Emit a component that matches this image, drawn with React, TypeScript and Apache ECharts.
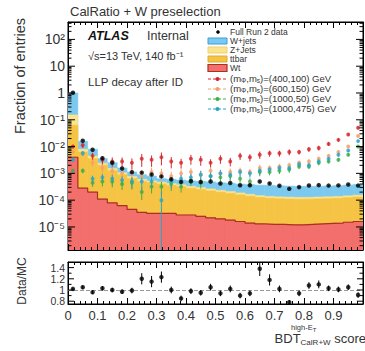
import React, { useEffect, useRef } from "react";
import * as echarts from "echarts";

const N_BINS = 30;
const xTickLabels = ["0", "0.1", "0.2", "0.3", "0.4", "0.5", "0.6", "0.7", "0.8", "0.9"];
const yLogTicks = [-5, -4, -3, -2, -1, 0, 1, 2];
const yLogLabels = ["10⁻⁵", "10⁻⁴", "10⁻³", "10⁻²", "10⁻¹", "1", "10", "10²"];
const ratioTicks = [0.8, 1, 1.2, 1.4];
const ratioTickLabels = ["0.8", "1", "1.2", "1.4"];

// Backgrounds (fraction of entries per bin)
const wjets = [0.85, 7.9e-3, 3.47e-3, 1.15e-3, 1.0e-3, 5.3e-4, 3.6e-4, 2.9e-4, 2.7e-4, 1.6e-4, 1.8e-4, 1.9e-4, 1.95e-4, 2.05e-4, 2.2e-4, 2.1e-4, 2.2e-4, 2.1e-4, 2.15e-4, 2.15e-4, 2.2e-4, 2.1e-4, 2.05e-4, 2.0e-4, 2.0e-4, 2.0e-4, 2.05e-4, 2.1e-4, 2.2e-4, 2.3e-4];
const zjets = [0.088, 1.6e-3, 9.2e-4, 4.0e-4, 2.5e-4, 1.6e-4, 1.3e-4, 1.0e-4, 7e-5, 7e-5, 6.5e-5, 5.5e-5, 5e-5, 4.5e-5, 4e-5, 3.4e-5, 3.2e-5, 2.8e-5, 2.5e-5, 2.2e-5, 2.1e-5, 2.0e-5, 2.0e-5, 1.9e-5, 1.9e-5, 2.0e-5, 2.0e-5, 2.1e-5, 2.2e-5, 2.3e-5];
const ttbar = [0.059, 6.0e-3, 3.35e-3, 1.9e-3, 1.18e-3, 8.3e-4, 5.9e-4, 4.65e-4, 4.2e-4, 3.7e-4, 3.2e-4, 2.9e-4, 2.5e-4, 2.25e-4, 2.0e-4, 1.8e-4, 1.6e-4, 1.42e-4, 1.27e-4, 1.13e-4, 1.05e-4, 1.0e-4, 9.8e-5, 9.6e-5, 9.6e-5, 9.8e-5, 1.0e-4, 1.03e-4, 1.08e-4, 1.15e-4];
const wt = [4.0e-3, 2.8e-4, 2.0e-4, 1.1e-4, 7.9e-5, 6.3e-5, 4.5e-5, 3.5e-5, 3.2e-5, 3.2e-5, 3.2e-5, 2.8e-5, 2.8e-5, 2.5e-5, 2.2e-5, 2.0e-5, 1.8e-5, 1.6e-5, 1.4e-5, 1.3e-5, 1.25e-5, 1.25e-5, 1.2e-5, 1.2e-5, 1.25e-5, 1.3e-5, 1.35e-5, 1.4e-5, 1.5e-5, 1.6e-5];

// Data
const dataVals = [1.02, 1.66e-2, 7.6e-3, 3.66e-3, 2.5e-3, 1.53e-3, 1.11e-3, 1.07e-3, 9.1e-4, 7.7e-4, 6.0e-4, 4.8e-4, 5.1e-4, 4.75e-4, 5.0e-4, 4.2e-4, 4.35e-4, 3.6e-4, 3.6e-4, 5.0e-4, 4.2e-4, 3.45e-4, 2.65e-4, 3.07e-4, 3.54e-4, 3.64e-4, 3.5e-4, 3.55e-4, 3.83e-4, 3.5e-4];
const ratio = [1.02, 1.05, 0.96, 1.03, 1.0, 0.97, 0.99, 1.2, 1.15, 1.23, 1.0, 0.85, 0.98, 0.95, 1.05, 0.94, 1.02, 0.9, 0.94, 1.38, 1.18, 1.02, 0.78, 0.94, 1.08, 1.1, 1.03, 1.01, 1.05, 0.91];
const ratioErr = [0.02, 0.03, 0.03, 0.04, 0.04, 0.04, 0.05, 0.1, 0.1, 0.1, 0.06, 0.05, 0.05, 0.05, 0.06, 0.05, 0.06, 0.05, 0.05, 0.13, 0.1, 0.06, 0.04, 0.05, 0.06, 0.07, 0.05, 0.05, 0.05, 0.05];

// Signals
const sig400_100 = [1.0e-2, 1.12e-2, 4.5e-3, 3.2e-3, 2.8e-3, 2.8e-3, 2.5e-3, 3.5e-3, 3.2e-3, 4.0e-3, 2.8e-3, 2.5e-3, 3.5e-3, 3.2e-3, 2.5e-3, 3.5e-3, 2.8e-3, 4.5e-3, 4.0e-3, 5.0e-3, 5.6e-3, 5.6e-3, 6.3e-3, 6.3e-3, 7.9e-3, 8.9e-3, 1.26e-2, 1.78e-2, 2.8e-2, 5.0e-2];
const sig600_150 = [6.3e-3, 5.6e-3, 2.5e-3, 1.6e-3, 1.26e-3, 1.0e-3, 1.0e-3, 7.9e-4, 1.12e-3, 1.0e-3, 7.9e-4, 1.0e-3, 1.12e-3, 8.9e-4, 1.26e-3, 1.0e-3, 1.12e-3, 1.26e-3, 1.12e-3, 1.6e-3, 1.6e-3, 1.8e-3, 2.0e-3, 2.5e-3, 2.8e-3, 3.5e-3, 4.5e-3, 6.3e-3, 1.0e-2, 2.5e-2];
const sig1000_50 = [1.26e-3, 1.26e-3, 4.5e-4, 5.0e-4, 5.0e-4, 4.0e-4, 4.5e-4, 2.0e-4, 3.2e-4, 3.2e-4, 4.0e-4, 3.2e-4, 5.6e-4, 4.5e-4, 7.9e-4, 7.1e-4, 7.9e-4, 6.3e-4, 5.0e-4, 1.12e-3, 1.12e-3, 1.26e-3, 1.4e-3, 1.8e-3, 1.8e-3, 2.5e-3, 2.8e-3, 3.2e-3, 5.0e-3, 1.0e-2];
const sig1000_475 = [3.2e-3, 5.6e-3, 6.3e-4, 7.1e-4, 6.3e-4, 5.6e-4, 5.0e-4, 5.0e-4, 5.0e-4, 1.0e-4, 5.0e-4, 6.3e-4, 7.1e-4, 8.9e-4, 7.9e-4, 1.0e-3, 8.9e-4, 1.12e-3, 1.0e-3, 1.26e-3, 1.4e-3, 1.6e-3, 1.6e-3, 2.2e-3, 2.0e-3, 2.8e-3, 3.5e-3, 5.0e-3, 7.1e-3, 1.6e-2];
const sigRelErr = [0.15, 0.2, 0.3, 0.35, 0.4, 0.4, 0.45, 0.5, 0.45, 0.5, 0.45, 0.4, 0.4, 0.4, 0.35, 0.35, 0.35, 0.3, 0.3, 0.3, 0.25, 0.25, 0.25, 0.2, 0.2, 0.2, 0.15, 0.15, 0.12, 0.1];
const sig1000_475RelErr = [0.15, 0.2, 0.3, 0.35, 0.4, 0.4, 0.45, 0.5, 0.45, 1.0, 0.45, 0.4, 0.4, 0.4, 0.35, 0.35, 0.35, 0.3, 0.3, 0.3, 0.25, 0.25, 0.25, 0.2, 0.2, 0.2, 0.15, 0.15, 0.12, 0.1];

const Y_MIN = -5.86;
const Y_MAX = 2.65;
const R_MIN = 0.75;
const R_MAX = 1.5;
const FONT = "'Liberation Sans', Arial, Helvetica, sans-serif";

const G_LEFT = 68;
const G_RIGHT = 2;
const M_TOP = 22;
const M_H = 228;
const R_TOP = 262;
const R_H = 42;

const C_W = "#7cc9ef";
const C_Z = "#fce48e";
const C_TT = "#f6c444";
const C_WT = "#f26f6d";
const C_WT_LINE = "#a8321f";
const C_S1 = "#d7262b";
const C_S2 = "#f5a06a";
const C_S3 = "#3fae49";
const C_S4 = "#27a5c9";

const lg = (v: number) => (v > 0 ? Math.max(Math.log10(v), Y_MIN) : Y_MIN);
const center = (i: number) => (i + 0.5) / N_BINS;

function errSeries(items: number[][], color: string, xi: number, yi: number, width = 1, z = 3) {
  return {
    type: "custom",
    xAxisIndex: xi,
    yAxisIndex: yi,
    data: items,
    silent: true,
    clip: true,
    z,
    encode: { x: 0, y: [1, 2] },
    renderItem: (_p: any, api: any) => {
      const a = api.coord([api.value(0), api.value(1)]);
      const b = api.coord([api.value(0), api.value(2)]);
      return {
        type: "line",
        shape: { x1: a[0], y1: a[1], x2: b[0], y2: b[1] },
        style: { stroke: color, lineWidth: width },
      };
    },
  };
}

function histSeries(cum: number[], color: string) {
  return {
    type: "custom",
    xAxisIndex: 0,
    yAxisIndex: 0,
    silent: true,
    clip: true,
    z: 1,
    data: cum.map((v, i) => [i / N_BINS, (i + 1) / N_BINS, lg(v)]),
    encode: { x: [0, 1], y: 2 },
    renderItem: (_p: any, api: any) => {
      const a = api.coord([api.value(0), api.value(2)]);
      const b = api.coord([api.value(1), Y_MIN]);
      return {
        type: "rect",
        shape: { x: a[0], y: a[1], width: b[0] - a[0], height: b[1] - a[1] },
        style: { fill: color, stroke: color, lineWidth: 0.6 },
      };
    },
  };
}

function yTickSeries(items: number[][], xi: number, yi: number) {
  return {
    type: "custom",
    xAxisIndex: xi,
    yAxisIndex: yi,
    data: items,
    silent: true,
    z: 7,
    encode: { y: 0 },
    renderItem: (_p: any, api: any) => {
      const len = api.value(1);
      const l = api.coord([0, api.value(0)]);
      const r = api.coord([1, api.value(0)]);
      return {
        type: "group",
        children: [
          { type: "line", shape: { x1: l[0], y1: l[1], x2: l[0] + len, y2: l[1] }, style: { stroke: "#000", lineWidth: 1 } },
          { type: "line", shape: { x1: r[0], y1: r[1], x2: r[0] - len, y2: r[1] }, style: { stroke: "#000", lineWidth: 1 } },
        ],
      };
    },
  };
}

export default function App() {
  const ref = useRef<HTMLDivElement>(null);
  useEffect(() => {
    if (!ref.current) return;
    const chart = echarts.init(ref.current, undefined, { renderer: "svg" });

    const cWt = wt.map((v) => v);
    const cTt = wt.map((v, i) => v + ttbar[i]);
    const cZ = cTt.map((v, i) => v + zjets[i]);
    const cW = cZ.map((v, i) => v + wjets[i]);

    const wtOutline: number[][] = cWt.map((v, i) => [i / N_BINS, lg(v)]);
    wtOutline.push([1, lg(cWt[cWt.length - 1])]);

    const mainTicks: number[][] = [];
    for (let d = -6; d <= 2; d++) {
      for (let k = 1; k <= 9; k++) {
        const v = d + Math.log10(k);
        if (v > Y_MIN && v < Y_MAX) mainTicks.push([v, k === 1 ? 7 : 3.5]);
      }
    }
    const ratioTickPos: number[][] = [];
    for (let r = 0.8; r < 1.45; r += 0.1) {
      const rr = Math.round(r * 10) / 10;
      ratioTickPos.push([rr, Math.round(rr * 10) % 2 === 0 ? 6 : 3.5]);
    }

    // label-only grids sharing the pixel scale of the visible panels
    const pxPerDec = M_H / (Y_MAX - Y_MIN);
    const labTop = M_TOP - (3 - Y_MAX) * pxPerDec;
    const labH = 9 * pxPerDec;
    const pxPerR = R_H / (R_MAX - R_MIN);
    const rLabTopA = R_TOP + (R_MAX - 1.4) * pxPerR; // 1.0 .. 1.4
    const rLabTopB = R_TOP + (R_MAX - 1.2) * pxPerR; // 0.8 .. 1.2
    const rLabH = 0.4 * pxPerR;

    const signals = [
      { vals: sig400_100, err: sigRelErr, color: C_S1 },
      { vals: sig600_150, err: sigRelErr, color: C_S2 },
      { vals: sig1000_50, err: sigRelErr, color: C_S3 },
      { vals: sig1000_475, err: sig1000_475RelErr, color: C_S4 },
    ];

    const sigSeries: any[] = [];
    signals.forEach((s) => {
      sigSeries.push(
        errSeries(
          s.vals.map((v, i) => [center(i), lg(v * (1 - s.err[i])), lg(v * (1 + s.err[i]))]),
          s.color,
          0,
          0,
          1,
          3
        )
      );
      sigSeries.push({
        type: "scatter",
        xAxisIndex: 0,
        yAxisIndex: 0,
        symbol: "circle",
        symbolSize: 4,
        silent: true,
        itemStyle: { color: s.color },
        data: s.vals.map((v, i) => [center(i), lg(v)]),
        z: 4,
      });
    });

    const xAxisBase = {
      type: "value",
      min: 0,
      max: 1,
      interval: 0.1,
      splitLine: { show: false },
      axisLine: { show: true, onZero: false, lineStyle: { color: "#000", width: 1 } },
      axisTick: { show: true, inside: true, length: 6, lineStyle: { color: "#000" } },
      minorTick: { show: true, splitNumber: 5, length: 3, lineStyle: { color: "#000" } },
      minorSplitLine: { show: false },
      z: 8,
    };
    const hiddenX = { type: "value", min: 0, max: 1, show: false, axisLine: { onZero: false } };
    const plainY = {
      type: "value",
      splitLine: { show: false },
      axisLine: { show: true, onZero: false, lineStyle: { color: "#000" } },
      axisTick: { show: false },
      axisLabel: { show: false },
    };
    const ratioLabelAxis = (gridIndex: number, min: number, max: number) => ({
      type: "value",
      gridIndex,
      position: "left",
      min,
      max,
      interval: 0.2,
      splitLine: { show: false },
      axisLine: { show: false, onZero: false },
      axisTick: { show: false },
      axisLabel: {
        show: true,
        fontSize: 10.5,
        color: "#333",
        fontFamily: FONT,
        margin: 3,
        hideOverlap: false,
        showMinLabel: true,
        showMaxLabel: true,
        formatter: (v: any) => {
          const k = ratioTicks.findIndex((t) => Math.abs(t - Number(v)) < 1e-6);
          return k >= 0 && (k % 2 === 0) === (min < 0.9) ? ratioTickLabels[k] : "";
        },
      },
    });

    const gridBase = { left: G_LEFT, right: G_RIGHT, outerBoundsMode: "none", containLabel: false };

    const option: any = {
      animation: false,
      backgroundColor: "#fff",
      grid: [
        { ...gridBase, top: M_TOP, height: M_H, show: true, borderColor: "#000", borderWidth: 1, backgroundColor: "transparent" },
        { ...gridBase, top: R_TOP, height: R_H, show: true, borderColor: "#000", borderWidth: 1, backgroundColor: "transparent" },
        { ...gridBase, top: labTop, height: labH, show: false },
        { ...gridBase, top: rLabTopA, height: rLabH, show: false },
        { ...gridBase, top: rLabTopB, height: rLabH, show: false },
      ],
      xAxis: [
        { ...xAxisBase, gridIndex: 0, position: "bottom", axisLabel: { show: false } },
        { ...xAxisBase, gridIndex: 0, position: "top", axisLabel: { show: false } },
        {
          ...xAxisBase,
          gridIndex: 1,
          position: "bottom",
          axisLabel: {
            show: true,
            fontSize: 13,
            color: "#333",
            fontFamily: FONT,
            margin: 5,
            showMaxLabel: false,
            formatter: (v: number) => {
              const k = Math.round(v * 10);
              return k >= 0 && k < xTickLabels.length ? xTickLabels[k] : "";
            },
          },
        },
        { ...xAxisBase, gridIndex: 1, position: "top", axisLabel: { show: false } },
        { ...hiddenX, gridIndex: 2 },
        { ...hiddenX, gridIndex: 3 },
        { ...hiddenX, gridIndex: 4 },
      ],
      yAxis: [
        { ...plainY, gridIndex: 0, position: "left", min: Y_MIN, max: Y_MAX },
        { ...plainY, gridIndex: 0, position: "right", min: Y_MIN, max: Y_MAX },
        { ...plainY, gridIndex: 1, position: "left", min: R_MIN, max: R_MAX },
        { ...plainY, gridIndex: 1, position: "right", min: R_MIN, max: R_MAX },
        {
          type: "value",
          gridIndex: 2,
          position: "left",
          min: -6,
          max: 3,
          interval: 1,
          splitLine: { show: false },
          axisLine: { show: false, onZero: false },
          axisTick: { show: false },
          axisLabel: {
            show: true,
            fontSize: 14,
            color: "#333",
            fontFamily: FONT,
            margin: 3,
            hideOverlap: false,
            formatter: (v: any) => {
              const k = yLogTicks.indexOf(Math.round(Number(v)));
              return k >= 0 ? yLogLabels[k] : "";
            },
          },
        },
        ratioLabelAxis(3, 1.0, 1.4),
        ratioLabelAxis(4, 0.8, 1.2),
      ],
      series: [
        histSeries(cW, C_W),
        histSeries(cZ, C_Z),
        histSeries(cTt, C_TT),
        histSeries(cWt, C_WT),
        {
          type: "line",
          xAxisIndex: 0,
          yAxisIndex: 0,
          step: "end",
          symbol: "none",
          silent: true,
          data: wtOutline,
          lineStyle: { width: 1.2, color: C_WT_LINE },
          z: 2,
        },
        yTickSeries(mainTicks, 0, 0),
        yTickSeries(ratioTickPos, 2, 2),
        ...sigSeries,
        errSeries(
          dataVals.map((v, i) => {
            const rel = ratioErr[i] / ratio[i];
            return [center(i), lg(v * (1 - rel)), lg(v * (1 + rel))];
          }),
          "#000",
          0,
          0,
          1,
          5
        ),
        {
          type: "scatter",
          xAxisIndex: 0,
          yAxisIndex: 0,
          symbol: "circle",
          symbolSize: 4.5,
          silent: true,
          itemStyle: { color: "#000" },
          data: dataVals.map((v, i) => [center(i), lg(v)]),
          z: 6,
        },
        errSeries(
          ratio.map((r, i) => [center(i), r - ratioErr[i], r + ratioErr[i]]),
          "#000",
          2,
          2,
          1,
          5
        ),
        {
          type: "scatter",
          xAxisIndex: 2,
          yAxisIndex: 2,
          symbol: "circle",
          symbolSize: 4.5,
          silent: true,
          itemStyle: { color: "#000" },
          data: ratio.map((r, i) => [center(i), r]),
          z: 6,
          markLine: {
            silent: true,
            symbol: "none",
            label: { show: false },
            lineStyle: { color: "#999", type: "dashed", width: 1 },
            data: [{ yAxis: 1 }],
          },
        },
      ],
      graphic: [
        { type: "text", left: 70, top: 5, style: { text: "CalRatio + W preselection", fontSize: 13, fontFamily: FONT, fill: "#333" } },
        { type: "text", x: 88, y: 36, style: { text: "ATLAS", fontSize: 12.5, fontWeight: "bold", fontStyle: "italic", fontFamily: FONT, fill: "#111", verticalAlign: "middle" } },
        { type: "text", x: 147, y: 36, style: { text: "Internal", fontSize: 12.5, fontFamily: FONT, fill: "#333", verticalAlign: "middle" } },
        { type: "text", x: 88, y: 56, style: { text: "√s=13 TeV, 140 fb⁻¹", fontSize: 11, fontFamily: FONT, fill: "#333", verticalAlign: "middle" } },
        { type: "text", x: 88, y: 82, style: { text: "LLP decay after ID", fontSize: 11.5, fontFamily: FONT, fill: "#333", verticalAlign: "middle" } },
        // legend
        { type: "circle", shape: { cx: 218, cy: 32, r: 1.8 }, style: { fill: "#000" } },
        { type: "text", x: 230, y: 32, style: { text: "Full Run 2 data", fontSize: 8.5, fontFamily: FONT, fill: "#333", verticalAlign: "middle" } },
        { type: "rect", shape: { x: 208, y: 38, width: 19, height: 6 }, style: { fill: C_W, stroke: "#3d9fd8", lineWidth: 1 } },
        { type: "text", x: 230, y: 41, style: { text: "W+jets", fontSize: 8.5, fontFamily: FONT, fill: "#333", verticalAlign: "middle" } },
        { type: "rect", shape: { x: 208, y: 47, width: 19, height: 6 }, style: { fill: C_Z, stroke: "#f0d070", lineWidth: 1 } },
        { type: "text", x: 230, y: 50, style: { text: "Z+Jets", fontSize: 8.5, fontFamily: FONT, fill: "#333", verticalAlign: "middle" } },
        { type: "rect", shape: { x: 208, y: 56, width: 19, height: 6 }, style: { fill: C_TT, stroke: "#e0a830", lineWidth: 1 } },
        { type: "text", x: 230, y: 59, style: { text: "ttbar", fontSize: 8.5, fontFamily: FONT, fill: "#333", verticalAlign: "middle" } },
        { type: "rect", shape: { x: 208, y: 64.5, width: 19, height: 7 }, style: { fill: C_WT, stroke: C_WT_LINE, lineWidth: 1.2 } },
        { type: "text", x: 230, y: 68, style: { text: "Wt", fontSize: 8.5, fontFamily: FONT, fill: "#333", verticalAlign: "middle" } },
        ...[
          { y: 79, c: C_S1, t: "(400,100) GeV" },
          { y: 89, c: C_S2, t: "(600,150) GeV" },
          { y: 99, c: C_S3, t: "(1000,50) GeV" },
          { y: 109, c: C_S4, t: "(1000,475) GeV" },
        ].flatMap((e) => [
          { type: "line", shape: { x1: 208, y1: e.y, x2: 227, y2: e.y }, style: { stroke: e.c, lineWidth: 1, lineDash: [3, 2] } },
          { type: "circle", shape: { cx: 217.5, cy: e.y, r: 2 }, style: { fill: e.c } },
          {
            type: "text",
            x: 230,
            y: e.y - 1,
            style: {
              text: "(m{s|Φ},m{s|s})=" + e.t,
              fontSize: 9.5,
              fontFamily: FONT,
              fill: "#333",
              verticalAlign: "middle",
              rich: { s: { fontSize: 6.5, fontFamily: FONT, fill: "#333", padding: [4, 0, 0, 0] } },
            },
          },
        ]),
        // axis titles
        {
          type: "text",
          x: 20,
          y: 76,
          rotation: Math.PI / 2,
          style: { text: "Fraction of entries", fontSize: 14.5, fontFamily: FONT, fill: "#333", align: "center", verticalAlign: "middle" },
        },
        {
          type: "text",
          x: 22,
          y: 281,
          rotation: Math.PI / 2,
          style: { text: "Data/MC", fontSize: 12, fontFamily: FONT, fill: "#333", align: "center", verticalAlign: "middle" },
        },
        {
          type: "text",
          x: 366,
          y: 338,
          style: {
            text: "{b|BDT}{s|CalR+W}{b| score}",
            align: "right",
            verticalAlign: "middle",
            fill: "#333",
            rich: {
              b: { fontSize: 13, fontFamily: FONT, fill: "#333" },
              s: { fontSize: 8, fontFamily: FONT, fill: "#333", padding: [8, 0, 0, 0] },
            },
          },
        },
        {
          type: "text",
          x: 291,
          y: 327,
          style: {
            text: "high-E{s|T}",
            fontSize: 7.5,
            fontFamily: FONT,
            fill: "#333",
            verticalAlign: "middle",
            rich: { s: { fontSize: 6, fontFamily: FONT, fill: "#333", padding: [5, 0, 0, 0] } },
          },
        },
      ],
    };

    chart.setOption(option);
    return () => chart.dispose();
  }, []);

  return (
    <div
      ref={ref}
      style={{ position: "fixed", left: 0, top: 0, width: 365, height: 351, background: "#fff" }}
    />
  );
}
